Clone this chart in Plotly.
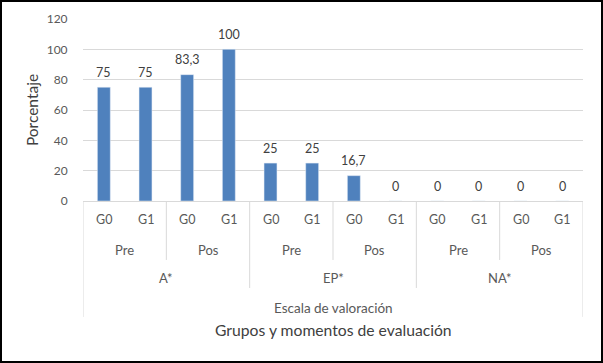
import plotly.graph_objects as go

grupos = ["G0", "G1", "G0", "G1", "G0", "G1", "G0", "G1", "G0", "G1", "G0", "G1"]
momentos = ["Pre", "Pos", "Pre", "Pos", "Pre", "Pos"]
escala = ["A*", "EP*", "NA*"]
valores = [75, 75, 83.3, 100, 25, 25, 16.7, 0, 0, 0, 0, 0]
etiquetas = ["75", "75", "83,3", "100", "25", "25", "16,7", "0", "0", "0", "0", "0"]
y_ticks = [0, 20, 40, 60, 80, 100, 120]

FONT = "Lato"
GRAY = "#595959"
DARK = "#404040"
LINE = "#d9d9d9"

n = len(valores)
xs = list(range(n))

fig = go.Figure()
fig.add_trace(go.Bar(
    x=xs, y=valores, width=0.31, marker_color="#4f81bd",
    hoverinfo="skip",
))

ann = []
shapes = []
# data labels
for i, (v, t) in enumerate(zip(valores, etiquetas)):
    ann.append(dict(x=i, y=v, xref="x", yref="y", text=t, showarrow=False,
                    xanchor="center", yanchor="middle", yshift=15,
                    font=dict(family=FONT, size=12.5, color=DARK)))
for i, g in enumerate(grupos):
    ann.append(dict(x=i, y=-0.104, xref="x", yref="paper", text=g, showarrow=False,
                    xanchor="center", yanchor="middle",
                    font=dict(family=FONT, size=12.5, color=GRAY)))
for j, m in enumerate(momentos):
    ann.append(dict(x=2 * j + 0.5, y=-0.269, xref="x", yref="paper", text=m, showarrow=False,
                    xanchor="center", yanchor="middle",
                    font=dict(family=FONT, size=13, color=GRAY)))
for k, e in enumerate(escala):
    ann.append(dict(x=4 * k + 1.5, y=-0.423, xref="x", yref="paper", text=e, showarrow=False,
                    xanchor="center", yanchor="middle",
                    font=dict(family=FONT, size=13, color=GRAY)))
ann.append(dict(x=(n - 1) / 2, y=-0.588, xref="x", yref="paper", text="Escala de valoración",
                showarrow=False, xanchor="center", yanchor="middle",
                font=dict(family=FONT, size=13.5, color=GRAY)))
ann.append(dict(x=(n - 1) / 2, y=-0.709, xref="x", yref="paper", text="Grupos y momentos de evaluación",
                showarrow=False, xanchor="center", yanchor="middle",
                font=dict(family=FONT, size=15.7, color=DARK)))

for j in range(1, len(momentos)):
    if (2 * j) % 4 != 0:
        shapes.append(dict(type="line", xref="x", yref="paper", x0=2 * j - 0.5, x1=2 * j - 0.5,
                           y0=0, y1=-0.324, line=dict(color=LINE, width=1)))
for k in range(1, len(escala)):
    shapes.append(dict(type="line", xref="x", yref="paper", x0=4 * k - 0.5, x1=4 * k - 0.5,
                       y0=0, y1=-0.478, line=dict(color=LINE, width=1)))
for xe in (-0.5, n - 0.5):
    shapes.append(dict(type="line", xref="x", yref="paper", x0=xe, x1=xe,
                       y0=0, y1=-0.637, line=dict(color=LINE, width=1)))
shapes.append(dict(type="rect", xref="paper", yref="paper", x0=-82 / 500, x1=519 / 500,
                   y0=-161 / 182, y1=200 / 182, line=dict(color="black", width=2)))

fig.update_layout(
    width=603, height=363,
    margin=dict(l=83, r=20, t=19, b=162, autoexpand=False),
    paper_bgcolor="white", plot_bgcolor="white",
    showlegend=False,
    annotations=ann, shapes=shapes,
    xaxis=dict(range=[-0.5, n - 0.5], showticklabels=False, showgrid=False, zeroline=False,
               showline=True, linecolor=LINE, linewidth=1, fixedrange=True, automargin=False),
    yaxis=dict(range=[0, 120], tickvals=y_ticks, showgrid=True, gridcolor=LINE, gridwidth=1,
               zeroline=False, showline=False, ticks="outside", ticklen=12, tickcolor="rgba(0,0,0,0)",
               tickfont=dict(family=FONT, size=12, color=GRAY), automargin=False,
               title=dict(text="Porcentaje", font=dict(family=FONT, size=15.5, color=DARK), standoff=4),
               fixedrange=True),
)

fig.write_html("out.html", config={"displayModeBar": False},
               post_script="document.body.style.margin='0';document.body.style.overflow='hidden';")
